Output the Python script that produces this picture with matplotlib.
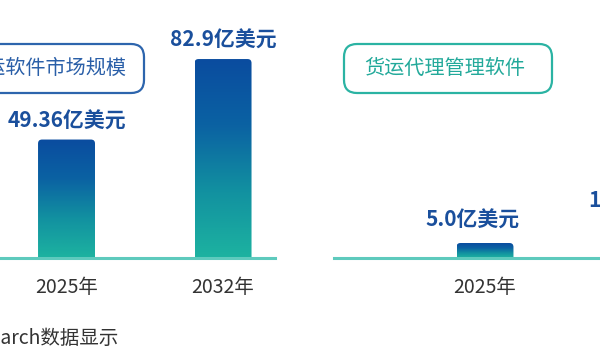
import numpy as np
import matplotlib
matplotlib.use("Agg")
import matplotlib.pyplot as plt
from matplotlib.patches import FancyBboxPatch
from matplotlib.colors import LinearSegmentedColormap

plt.rcParams['font.family'] = ['Noto Sans CJK SC', 'DejaVu Sans']

# ---- data ----
left_title = "货运软件市场规模"
left_years = ["2025年", "2032年"]
left_values = [49.36, 82.9]
left_labels = ["49.36亿美元", "82.9亿美元"]

right_title = "货运代理管理软件"
right_years = ["2025年", "2032年"]
right_values = [5.0, 11.2]
right_labels = ["5.0亿美元", "11.2亿美元"]

footer = "据QYResearch数据显示"

# ---- style ----
W, H, DPI = 6.0, 3.6, 100
BLUE_DARK = "#0a4c9f"
TEAL = "#1db3a0"
BASE = "#5ecabd"
LABEL_BLUE = "#1a4f9c"
cmap = LinearSegmentedColormap.from_list("g", [TEAL, "#1291a0", "#0b62a3", BLUE_DARK])

fig = plt.figure(figsize=(W, H), dpi=DPI)


def px_axes(x0, x1, y0, y1):
    # pixel coords: x from left, y from top
    return fig.add_axes([x0 / 600, (360 - y1) / 360, (x1 - x0) / 600, (y1 - y0) / 360])


def draw_panel(ax, years, values, labels, xlim, ymax, lab_dx, lab_dy):
    ax.set_xlim(*xlim)
    ax.set_ylim(0, ymax)
    x = np.arange(len(values))
    bars = ax.bar(x, values, width=0.364, color="none", edgecolor="none")
    fig.canvas.draw()
    p0 = ax.transData.transform((0, 0))
    p1 = ax.transData.transform((1, 1))
    px_x = p1[0] - p0[0]
    px_y = p1[1] - p0[1]
    for b in bars:
        bx, bw, bh = b.get_x(), b.get_width(), b.get_height()
        r = 4.0 / px_x
        clip = FancyBboxPatch((bx, -10), bw, bh + 10,
                              boxstyle=f"round,pad=0,rounding_size={r}",
                              mutation_aspect=px_x / px_y,
                              facecolor="none", edgecolor="none",
                              transform=ax.transData)
        ax.add_patch(clip)
        grad = np.linspace(0, 1, 256).reshape(-1, 1)
        im = ax.imshow(grad, extent=(bx, bx + bw, 0, bh), origin="lower",
                       cmap=cmap, aspect="auto", zorder=2)
        im.set_clip_path(clip)
    for xi, v, lab, dx in zip(x, values, labels, lab_dx):
        ax.annotate(lab, (xi, v), xytext=(dx, lab_dy), textcoords="offset points",
                    ha="center", va="bottom", fontsize=15, fontweight="bold",
                    color=LABEL_BLUE, annotation_clip=False)
    ax.set_xticks(x)
    ax.set_xticklabels(years, fontsize=14, color="#333333")
    ax.tick_params(axis="x", length=0, pad=14)
    ax.set_yticks([])
    for s in ["top", "left", "right"]:
        ax.spines[s].set_visible(False)
    ax.spines["bottom"].set_color(BASE)
    ax.spines["bottom"].set_linewidth(2.2)
    ax.spines["bottom"].set_zorder(3)
    ax.set_facecolor("none")
    ax.set_xlim(*xlim)


# left panel: axes from px -90..275, baseline at y=258
axL = px_axes(-90, 275, 0, 258)
draw_panel(axL, left_years, left_values, left_labels,
           (-1.0, 1.332), 258 / 2.40, [0, 0], 6)

# right panel
axR = px_axes(334, 720, 0, 258)
draw_panel(axR, right_years, right_values, right_labels,
           (-0.965, 1.502), 258 / 3.0, [-9, 0], 9)


def title_box(x0, x1, y0, y1, edge, text, tcolor, tx, ha):
    box = FancyBboxPatch((x0 / 100, (360 - y1) / 100), (x1 - x0) / 100, (y1 - y0) / 100,
                         boxstyle="round,pad=0,rounding_size=0.13",
                         facecolor="white", edgecolor=edge, linewidth=1.6,
                         transform=fig.dpi_scale_trans)
    fig.add_artist(box)
    fig.text(tx / 100, (360 - (y0 + y1) / 2) / 100, text, transform=fig.dpi_scale_trans,
             ha=ha, va="center", fontsize=14.5, color=tcolor)

title_box(-45, 144, 44, 93, "#2d65ad", left_title, "#2a5fa8", 126, "right")
title_box(344, 552, 44, 93, "#2bb3a3", right_title, "#22a99a", 445, "center")

fig.text(1.19, (360 - 338) / 100, footer, transform=fig.dpi_scale_trans,
         ha="right", va="center", fontsize=14, color="#333333")

fig.savefig("out.png", dpi=DPI)
